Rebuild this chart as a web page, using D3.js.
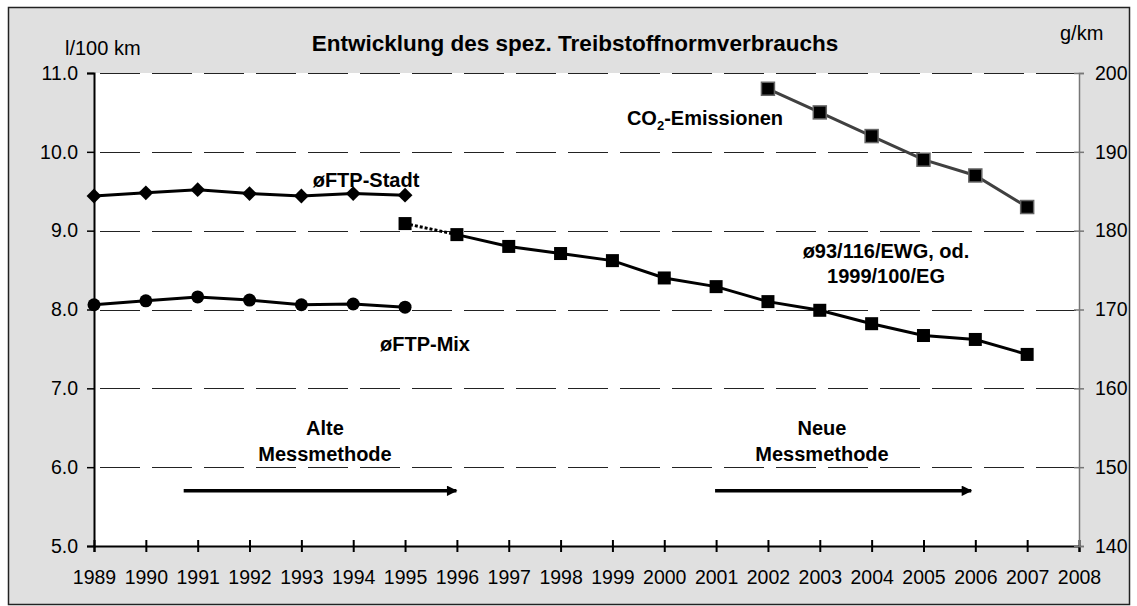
<!DOCTYPE html>
<html>
<head>
<meta charset="utf-8">
<script src="https://cdn.jsdelivr.net/npm/d3@7"></script>
<style>
  body { margin: 0; background: #fff; }
  svg text { font-family: 'Liberation Sans', Arial, sans-serif; fill: #000; }
</style>
</head>
<body>
<svg id="chart" width="1137" height="606"></svg>
<script>
const oldYears = [1989, 1990, 1991, 1992, 1993, 1994, 1995]
const stadt = [9.44, 9.48, 9.52, 9.47, 9.44, 9.47, 9.45]
const mix = [8.06, 8.11, 8.16, 8.12, 8.06, 8.07, 8.03]

const ewgYears = [1995, 1996, 1997, 1998, 1999, 2000, 2001, 2002, 2003, 2004, 2005, 2006, 2007]
const ewg = [9.09, 8.95, 8.80, 8.71, 8.62, 8.40, 8.29, 8.10, 7.99, 7.82, 7.67, 7.62, 7.43]

const co2Years = [2002, 2003, 2004, 2005, 2006, 2007]
const co2 = [198, 195, 192, 189, 187, 183]

const xTicks = [1989, 1990, 1991, 1992, 1993, 1994, 1995, 1996, 1997, 1998, 1999,
  2000, 2001, 2002, 2003, 2004, 2005, 2006, 2007, 2008]
const leftTicks = [5, 6, 7, 8, 9, 10, 11]
const rightTicks = [140, 150, 160, 170, 180, 190, 200]

const font = "'Liberation Sans', Arial, sans-serif"
const svg = d3.select('#chart')

const margin = { top: 73, right: 58, bottom: 60, left: 94 }
const width = 1137 - margin.left - margin.right
const height = 606 - margin.top - margin.bottom

// outer chart area
svg.append('rect')
  .attr('x', 8.5).attr('y', 7.5)
  .attr('width', 1121).attr('height', 597)
  .attr('fill', '#e0e0e0')
  .attr('stroke', '#222')
  .attr('stroke-width', 1.5)

const g = svg.append('g')
  .attr('transform', 'translate(' + margin.left + ',' + margin.top + ')')

g.append('rect')
  .attr('width', width).attr('height', height)
  .attr('fill', '#fff')

const x = d3.scaleLinear().domain([1989, 2008]).range([0, width])
const y = d3.scaleLinear().domain([5, 11]).range([height, 0])
const y2 = d3.scaleLinear().domain([140, 200]).range([height, 0])

// grid
g.selectAll('.grid')
  .data(leftTicks.slice(1))
  .enter().append('line')
  .attr('x1', 0).attr('x2', width)
  .attr('y1', d => Math.round(y(d)) + 0.5)
  .attr('y2', d => Math.round(y(d)) + 0.5)
  .attr('stroke', '#222')
  .attr('stroke-width', 1)
  .attr('stroke-dasharray', '40,12')
  .attr('stroke-dashoffset', -6)

// axes
const xAxis = g.append('g')
  .attr('transform', 'translate(0,' + height + ')')
  .call(d3.axisBottom(x).tickValues(xTicks).tickFormat(d3.format('d')).tickSize(6).tickPadding(18))
xAxis.select('.domain').attr('stroke', '#000').attr('stroke-width', 2)
xAxis.selectAll('.tick line').attr('y1', -6).attr('y2', 6).attr('stroke-width', 2)
xAxis.selectAll('text').attr('font-size', 19.5).style('font-family', font).attr('fill', '#000')

const yAxis = g.append('g')
  .call(d3.axisLeft(y).tickValues(leftTicks).tickFormat(d3.format('.1f')).tickSize(7).tickPadding(9))
yAxis.select('.domain').attr('stroke', '#000').attr('stroke-width', 2)
yAxis.selectAll('.tick line').attr('stroke-width', 1.5)
yAxis.selectAll('text').attr('font-size', 19.5).style('font-family', font).attr('fill', '#000')

const yAxis2 = g.append('g')
  .attr('transform', 'translate(' + width + ',0)')
  .call(d3.axisRight(y2).tickValues(rightTicks).tickSize(5).tickPadding(11))
yAxis2.select('.domain').attr('stroke', '#777').attr('stroke-width', 1.5)
yAxis2.selectAll('.tick line').attr('x1', -5).attr('x2', 5).attr('stroke', '#777').attr('stroke-width', 1.5)
yAxis2.selectAll('text').attr('font-size', 19.5).style('font-family', font).attr('fill', '#000')

// series
const line = d3.line().x(d => x(d[0])).y(d => y(d[1]))
const line2 = d3.line().x(d => x(d[0])).y(d => y2(d[1]))

const stadtPts = oldYears.map((yr, i) => [yr, stadt[i]])
const mixPts = oldYears.map((yr, i) => [yr, mix[i]])
const ewgPts = ewgYears.map((yr, i) => [yr, ewg[i]])
const co2Pts = co2Years.map((yr, i) => [yr, co2[i]])

g.append('path').attr('d', line(stadtPts))
  .attr('fill', 'none').attr('stroke', '#000').attr('stroke-width', 3)
g.append('path').attr('d', line(mixPts))
  .attr('fill', 'none').attr('stroke', '#000').attr('stroke-width', 3)
// dotted link between old and new method
g.append('path').attr('d', line(ewgPts.slice(0, 2)))
  .attr('fill', 'none').attr('stroke', '#000').attr('stroke-width', 3)
  .attr('stroke-dasharray', '3,2')
g.append('path').attr('d', line(ewgPts.slice(1)))
  .attr('fill', 'none').attr('stroke', '#000').attr('stroke-width', 3)
g.append('path').attr('d', line2(co2Pts))
  .attr('fill', 'none').attr('stroke', '#404040').attr('stroke-width', 3)

g.selectAll('.diamond')
  .data(stadtPts).enter()
  .append('path')
  .attr('d', d3.symbol(d3.symbolSquare, 110))
  .attr('transform', d => 'translate(' + x(d[0]) + ',' + y(d[1]) + ') rotate(45)')
  .attr('fill', '#000')

g.selectAll('.dot')
  .data(mixPts).enter()
  .append('circle')
  .attr('cx', d => x(d[0])).attr('cy', d => y(d[1]))
  .attr('r', 6.5)
  .attr('fill', '#000')

g.selectAll('.sq')
  .data(ewgPts).enter()
  .append('rect')
  .attr('x', d => x(d[0]) - 6.5).attr('y', d => y(d[1]) - 6.5)
  .attr('width', 13).attr('height', 13)
  .attr('fill', '#000')

g.selectAll('.sq2')
  .data(co2Pts).enter()
  .append('rect')
  .attr('x', d => x(d[0]) - 6.5).attr('y', d => y2(d[1]) - 6.5)
  .attr('width', 13).attr('height', 13)
  .attr('fill', '#000')
  .attr('stroke', '#666')
  .attr('stroke-width', 1.5)

// arrows
svg.append('defs').append('marker')
  .attr('id', 'arrow')
  .attr('viewBox', '0 0 10 10')
  .attr('refX', 9).attr('refY', 5)
  .attr('markerWidth', 3.5).attr('markerHeight', 3)
  .attr('orient', 'auto')
  .append('path').attr('d', 'M0,0L10,5L0,10Z').attr('fill', '#000')

const arrows = [[1990.73, 1995.99], [2000.98, 2005.92]]
g.selectAll('.arrow')
  .data(arrows).enter()
  .append('line')
  .attr('x1', d => x(d[0])).attr('x2', d => x(d[1]))
  .attr('y1', y(5.7)).attr('y2', y(5.7))
  .attr('stroke', '#000').attr('stroke-width', 3.5)
  .attr('marker-end', 'url(#arrow)')

// texts
svg.append('text')
  .attr('x', 575).attr('y', 51)
  .attr('text-anchor', 'middle')
  .attr('font-size', 22.5).attr('font-weight', 'bold')
  .text('Entwicklung des spez. Treibstoffnormverbrauchs')

svg.append('text')
  .attr('x', 65).attr('y', 55)
  .attr('font-size', 20)
  .text('l/100 km')

svg.append('text')
  .attr('x', 1060).attr('y', 40)
  .attr('font-size', 20)
  .text('g/km')

const labels = [
  { t: 'øFTP-Stadt', x: 366, y: 187 },
  { t: 'øFTP-Mix', x: 425, y: 351 },
  { t: 'ø93/116/EWG, od.', x: 886, y: 258 },
  { t: '1999/100/EG', x: 886, y: 283 },
  { t: 'Alte', x: 325, y: 435 },
  { t: 'Messmethode', x: 325, y: 461 },
  { t: 'Neue', x: 822, y: 435 },
  { t: 'Messmethode', x: 822, y: 461 }
]
svg.selectAll('.lbl')
  .data(labels).enter()
  .append('text')
  .attr('x', d => d.x).attr('y', d => d.y)
  .attr('text-anchor', 'middle')
  .attr('font-size', 20).attr('font-weight', 'bold')
  .text(d => d.t)

const co2Label = svg.append('text')
  .attr('x', 705).attr('y', 125)
  .attr('text-anchor', 'middle')
  .attr('font-size', 20).attr('font-weight', 'bold')
co2Label.append('tspan').text('CO')
co2Label.append('tspan').attr('font-size', 13).attr('dy', 5).text('2')
co2Label.append('tspan').attr('dy', -5).text('-Emissionen')
</script>
</body>
</html>
